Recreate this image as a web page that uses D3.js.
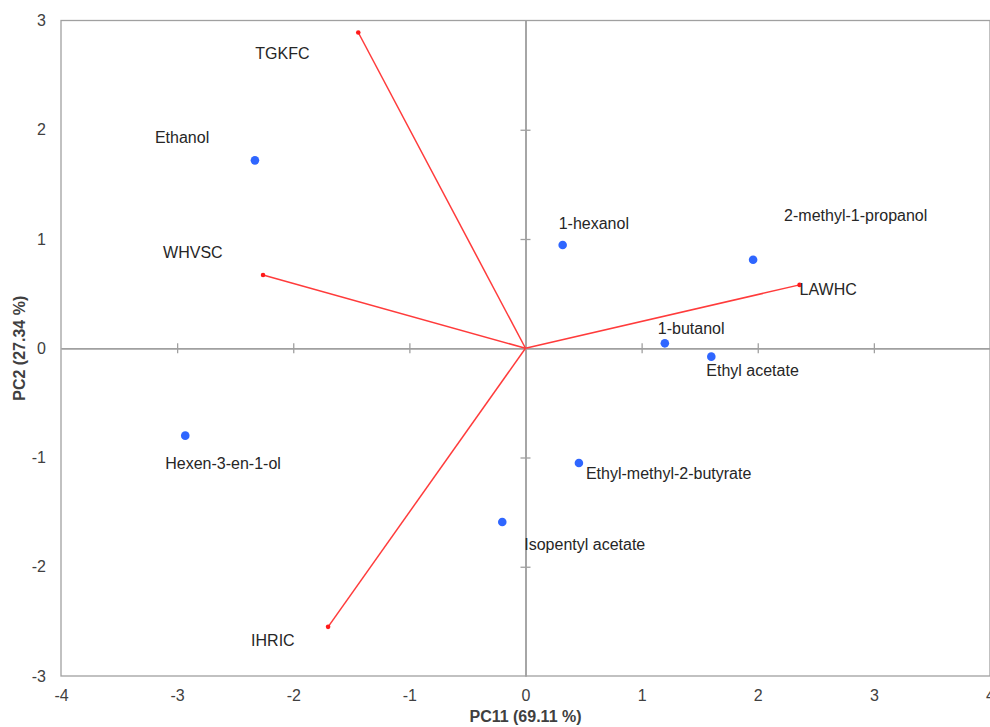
<!DOCTYPE html>
<html>
<head>
<meta charset="utf-8">
<script src="https://cdn.jsdelivr.net/npm/d3@7"></script>
<style>
  body { margin: 0; background: #fff; }
  text { font-family: "Liberation Sans", Arial, sans-serif; }
</style>
</head>
<body>
<div id="chart"></div>
<script>
// compound scores (blue points)
const compoundNames = ["Ethanol", "1-hexanol", "2-methyl-1-propanol", "1-butanol", "Ethyl acetate",
  "Hexen-3-en-1-ol", "Ethyl-methyl-2-butyrate", "Isopentyl acetate"];
const compoundPC1 = [-2.33, 0.32, 1.96, 1.20, 1.60, -2.93, 0.46, -0.20];
const compoundPC2 = [1.72, 0.945, 0.81, 0.045, -0.077, -0.80, -1.05, -1.59];

// sample loadings (red vectors)
const sampleNames = ["TGKFC", "WHVSC", "LAWHC", "IHRIC"];
const samplePC1 = [-1.44, -2.26, 2.36, -1.70];
const samplePC2 = [2.89, 0.67, 0.58, -2.55];

const xTicks = [-4, -3, -2, -1, 0, 1, 2, 3, 4];
const yTicks = [-3, -2, -1, 0, 1, 2, 3];

// label offsets in px from the mark (left edge, baseline)
const labelOffset = {
  "Ethanol": [-100, -17], "1-hexanol": [-4, -16], "2-methyl-1-propanol": [31, -39],
  "1-butanol": [-7, -9], "Ethyl acetate": [-5, 19], "Hexen-3-en-1-ol": [-20, 33],
  "Ethyl-methyl-2-butyrate": [7, 16], "Isopentyl acetate": [22, 28],
  "TGKFC": [-103, 26], "WHVSC": [-100, -17], "LAWHC": [0, 10], "IHRIC": [-77, 19]
};

const W = 990, H = 727;
const plot = { left: 61, right: 990, top: 20.5, bottom: 676 };
const textColor = "#404040", axisColor = "#a0a0a0";

const svg = d3.select("#chart").append("svg")
  .attr("width", W).attr("height", H);

const x = d3.scaleLinear().domain([-4, 4]).range([plot.left, plot.right]);
const y = d3.scaleLinear().domain([-3, 3]).range([plot.bottom, plot.top]);

// frame
svg.append("rect")
  .attr("x", plot.left).attr("y", plot.top)
  .attr("width", plot.right - plot.left).attr("height", plot.bottom - plot.top)
  .attr("fill", "none").attr("stroke", axisColor).attr("stroke-width", 1.3);

// tick labels on the frame (plain hyphen minus, like the original)
const fmt = d => String(d);
const xLab = svg.append("g")
  .attr("transform", `translate(0, ${plot.bottom})`)
  .call(d3.axisBottom(x).tickValues(xTicks).tickSize(0).tickPadding(14).tickFormat(fmt));
const yLab = svg.append("g")
  .attr("transform", `translate(${plot.left}, 0)`)
  .call(d3.axisLeft(y).tickValues(yTicks).tickSize(0).tickPadding(15).tickFormat(fmt));
[xLab, yLab].forEach(g => {
  g.select(".domain").remove();
  g.selectAll("text").attr("font-size", 16).attr("fill", textColor)
    .attr("font-family", "Liberation Sans, Arial, sans-serif");
});

// zero lines with cross ticks
const innerX = [-3, -2, -1, 1, 2, 3];
const innerY = [-2, -1, 1, 2];
[d3.axisBottom(x), d3.axisTop(x)].forEach(ax => {
  const g = svg.append("g").attr("transform", `translate(0, ${y(0)})`)
    .call(ax.tickValues(innerX).tickSize(5).tickSizeOuter(0).tickFormat(""));
  g.select(".domain").attr("stroke", axisColor).attr("stroke-width", 1.5);
  g.selectAll(".tick line").attr("stroke", axisColor).attr("stroke-width", 1.3);
});
[d3.axisLeft(y), d3.axisRight(y)].forEach(ax => {
  const g = svg.append("g").attr("transform", `translate(${x(0)}, 0)`)
    .call(ax.tickValues(innerY).tickSize(5).tickSizeOuter(0).tickFormat(""));
  g.select(".domain").attr("stroke", axisColor).attr("stroke-width", 1.5);
  g.selectAll(".tick line").attr("stroke", axisColor).attr("stroke-width", 1.3);
});

// axis titles
svg.append("text")
  .attr("x", x(0)).attr("y", 722)
  .attr("text-anchor", "middle").attr("font-size", 16).attr("font-weight", "bold")
  .attr("fill", textColor).text("PC11 (69.11 %)");
svg.append("text")
  .attr("transform", `translate(25, ${y(0)}) rotate(-90)`)
  .attr("text-anchor", "middle").attr("font-size", 16).attr("font-weight", "bold")
  .attr("fill", textColor).text("PC2 (27.34 %)");

const samples = sampleNames.map((n, i) => ({ name: n, pc1: samplePC1[i], pc2: samplePC2[i] }));
const compounds = compoundNames.map((n, i) => ({ name: n, pc1: compoundPC1[i], pc2: compoundPC2[i] }));

// vectors
svg.selectAll("line.vec").data(samples).join("line")
  .attr("class", "vec")
  .attr("x1", x(0)).attr("y1", y(0))
  .attr("x2", d => x(d.pc1)).attr("y2", d => y(d.pc2))
  .attr("stroke", "#ff3b3b").attr("stroke-width", 1.5);
svg.selectAll("circle.vecEnd").data(samples).join("circle")
  .attr("class", "vecEnd")
  .attr("cx", d => x(d.pc1)).attr("cy", d => y(d.pc2))
  .attr("r", 2.3).attr("fill", "#ff1a1a");

// points
svg.selectAll("circle.pt").data(compounds).join("circle")
  .attr("class", "pt")
  .attr("cx", d => x(d.pc1)).attr("cy", d => y(d.pc2))
  .attr("r", 4.3).attr("fill", "#2f66ff");

// labels
svg.selectAll("text.lbl").data(samples.concat(compounds)).join("text")
  .attr("class", "lbl")
  .attr("x", d => x(d.pc1) + labelOffset[d.name][0])
  .attr("y", d => y(d.pc2) + labelOffset[d.name][1])
  .attr("font-size", 16).attr("fill", "#262626")
  .text(d => d.name);
</script>
</body>
</html>
